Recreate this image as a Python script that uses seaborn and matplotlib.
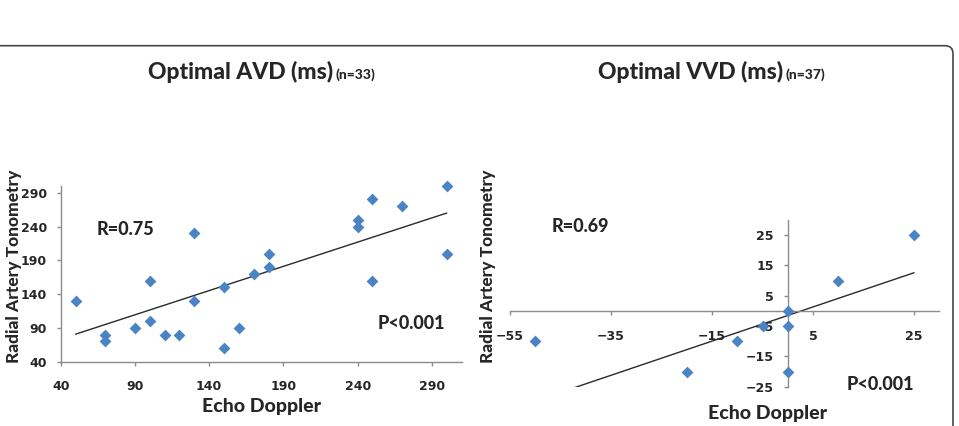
import numpy as np
import matplotlib
matplotlib.use("Agg")
import matplotlib.pyplot as plt
import matplotlib.transforms as mtransforms
from matplotlib.patches import FancyBboxPatch
import seaborn as sns

# Optimal AV delay (ms): echo doppler vs radial artery tonometry
avd_echo = [50, 70, 70, 90, 100, 100, 110, 120, 130, 130, 150, 150,
            160, 170, 180, 180, 240, 240, 250, 250, 270, 300, 300]
avd_tono = [130, 80, 70, 90, 160, 100, 80, 80, 230, 130, 150, 60,
            90, 170, 200, 180, 250, 240, 280, 160, 270, 300, 200]
avd_fit = (0.717, 44.8)  # slope, intercept of the drawn trend line
avd_ticks = [40, 90, 140, 190, 240, 290]

# Optimal VV delay (ms)
vvd_echo = [-50, -20, -10, -5, 0, 0, 0, 10, 25]
vvd_tono = [-10, -20, -10, -5, 0, -5, -20, 10, 25]
vvd_fit = (0.564, -1.5)
vvd_xticks = [-55, -35, -15, 5, 25]
vvd_yticks = [-25, -15, -5, 5, 15, 25]

BLUE = "#4A84C4"
GRAY = "#8C8C8C"
TEXT_FONT = ["Lato", "DejaVu Sans"]
TICK_FONT = ["Liberation Sans Narrow", "DejaVu Sans"]
HEAVY = "black"

sns.set_theme(style="ticks")
plt.rcParams["font.family"] = TEXT_FONT

fig = plt.figure(figsize=(9.59, 4.26), dpi=100)
fig.patch.set_facecolor("white")
ax1 = fig.add_axes([0.0633, 0.151, 0.418, 0.4125])
ax2 = fig.add_axes([0.5318, 0.0923, 0.4477, 0.3913])


def draw_panel(ax, echo, tono, fit):
    sns.scatterplot(x=echo, y=tono, marker="D", s=36, color=BLUE,
                    linewidth=0, ax=ax, clip_on=False, zorder=3)
    xs = np.array([min(echo), max(echo)], dtype=float)
    sns.lineplot(x=xs, y=fit[0] * xs + fit[1], color="#2a2a2a",
                 linewidth=1.0, ax=ax, zorder=2)


def style_axis(ax):
    for s in ax.spines.values():
        s.set_color(GRAY)
        s.set_linewidth(1.0)
    ax.tick_params(axis="x", direction="out", length=3, width=1, color=GRAY, pad=10.5, labelsize=9)
    ax.tick_params(axis="y", direction="out", length=3, width=1, color=GRAY, pad=7, labelsize=9)
    for lbl in ax.get_xticklabels() + ax.get_yticklabels():
        lbl.set_fontfamily(TICK_FONT)
        lbl.set_fontweight("bold")
    ax.set_facecolor("white")


# left panel
draw_panel(ax1, avd_echo, avd_tono, avd_fit)
ax1.set_xlim(40, 310)
ax1.set_ylim(40, 300)
ax1.set_xticks(avd_ticks)
ax1.set_yticks(avd_ticks)
sns.despine(ax=ax1)
style_axis(ax1)
ax1.set_xlabel("Echo Doppler", fontsize=14, fontweight=HEAVY)
ax1.xaxis.set_label_coords(0.5, -0.256)
ax1.xaxis.label.set_va("center")
ax1.set_ylabel("Radial Artery Tonometry", fontsize=12.5, fontweight=HEAVY)
ax1.yaxis.set_label_coords(-0.116, 0.542)
ax1.yaxis.label.set_va("center")
ax1.text(64, 236, "R=0.75", fontsize=13, fontweight=HEAVY, va="center", ha="left")
ax1.text(253.5, 96, "P<0.001", fontsize=13, fontweight=HEAVY, va="center", ha="left")

# right panel, axes cross at the origin
draw_panel(ax2, vvd_echo, vvd_tono, vvd_fit)
ax2.set_xlim(-55, 30)
ax2.set_ylim(-25, 30)
ax2.set_xticks(vvd_xticks)
ax2.set_yticks(vvd_yticks)
ax2.spines["left"].set_position(("data", 0))
ax2.spines["bottom"].set_position(("data", 0))
ax2.spines["top"].set_visible(False)
ax2.spines["right"].set_visible(False)
style_axis(ax2)
ax2.set_xlabel("Echo Doppler", fontsize=14, fontweight=HEAVY)
ax2.xaxis.set_label_coords(0.6, -0.16)
ax2.xaxis.label.set_va("center")
ax2.set_ylabel("Radial Artery Tonometry", fontsize=12.5, fontweight=HEAVY)
ax2.yaxis.set_label_coords(-0.052, 0.721)
ax2.yaxis.label.set_va("center")
ax2.text(-46.8, 27.7, "R=0.69", fontsize=13, fontweight=HEAVY, va="center", ha="left")
ax2.text(11.6, -24.3, "P<0.001", fontsize=13, fontweight=HEAVY, va="center", ha="left")

# titles: main part plus smaller sample size
for x_end, main, small in [(333 / 959, "Optimal AVD (ms)", "(n=33)"),
                           (782.7 / 959, "Optimal VVD (ms)", "(n=37)")]:
    fig.text(x_end, 0.814, main, fontsize=16.5, fontweight=HEAVY,
             ha="right", va="baseline")
    fig.text(x_end + 2.5 / 959, 0.814, small, fontsize=10, fontweight=HEAVY,
             ha="left", va="baseline")

# rounded frame around the chart area
frame = FancyBboxPatch((-10, -20), 963, 426 - 45.7 + 20,
                       boxstyle="round,pad=0,rounding_size=8",
                       transform=mtransforms.IdentityTransform(),
                       facecolor="none", edgecolor="#454545", linewidth=1.2)
fig.add_artist(frame)

fig.savefig("out.png", dpi=100)
